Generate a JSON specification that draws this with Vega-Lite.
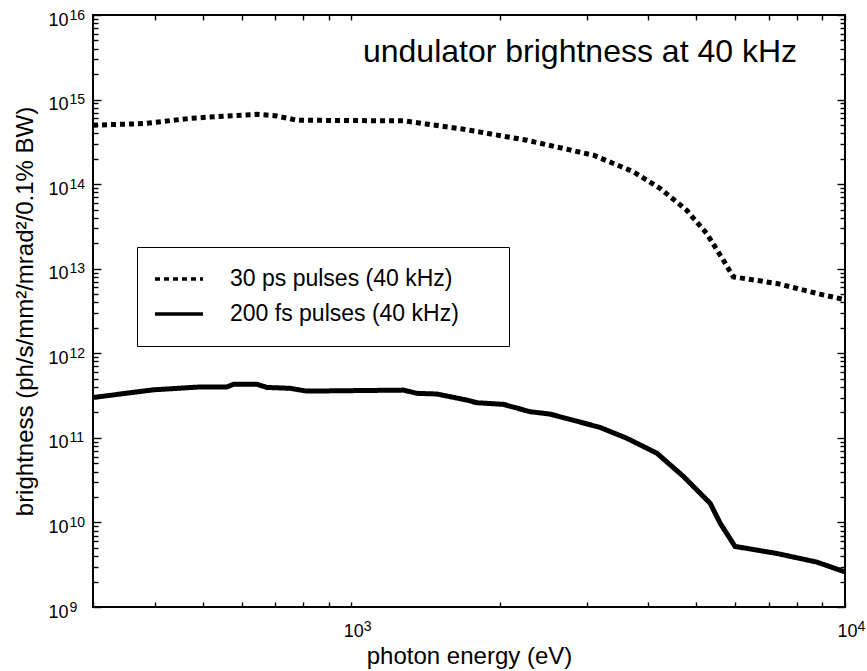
{
  "$schema": "https://vega.github.io/schema/vega-lite/v6.json",
  "autosize": {"type": "none"},
  "padding": {"left": 93, "top": 15, "right": 22, "bottom": 64},
  "width": 752,
  "height": 592,
  "background": "white",
  "config": {
    "font": "Liberation Sans",
    "view": {"stroke": "black", "strokeWidth": 2},
    "axis": {"grid": false, "domain": false, "domainColor": "black", "tickColor": "black", "labelColor": "black", "titleColor": "black", "labelFont": "Liberation Sans", "titleFont": "Liberation Sans", "titleFontWeight": "normal", "labelOverlap": false, "labelFlush": false, "tickWidth": 1.4}
  },
  "title": {
    "text": "undulator brightness at 40 kHz",
    "anchor": "end",
    "frame": "group",
    "orient": "bottom",
    "fontSize": 32,
    "fontWeight": "normal",
    "font": "Liberation Sans",
    "color": "black",
    "baseline": "alphabetic",
    "offset": 0,
    "dx": -48,
    "dy": -606
  },
  "data": {
    "values": [
      {"series": "30 ps pulses (40 kHz)", "E": 300, "B": 4.98e14},
      {"series": "30 ps pulses (40 kHz)", "E": 380, "B": 5.2e14},
      {"series": "30 ps pulses (40 kHz)", "E": 472, "B": 6.0e14},
      {"series": "30 ps pulses (40 kHz)", "E": 587, "B": 6.5e14},
      {"series": "30 ps pulses (40 kHz)", "E": 644, "B": 6.7e14},
      {"series": "30 ps pulses (40 kHz)", "E": 707, "B": 6.4e14},
      {"series": "30 ps pulses (40 kHz)", "E": 776, "B": 5.7e14},
      {"series": "30 ps pulses (40 kHz)", "E": 1276, "B": 5.6e14},
      {"series": "30 ps pulses (40 kHz)", "E": 1400, "B": 5.2e14},
      {"series": "30 ps pulses (40 kHz)", "E": 1714, "B": 4.4e14},
      {"series": "30 ps pulses (40 kHz)", "E": 2269, "B": 3.3e14},
      {"series": "30 ps pulses (40 kHz)", "E": 3094, "B": 2.2e14},
      {"series": "30 ps pulses (40 kHz)", "E": 3729, "B": 1.4e14},
      {"series": "30 ps pulses (40 kHz)", "E": 4223, "B": 8.9e13},
      {"series": "30 ps pulses (40 kHz)", "E": 4782, "B": 4.9e13},
      {"series": "30 ps pulses (40 kHz)", "E": 5248, "B": 2.6e13},
      {"series": "30 ps pulses (40 kHz)", "E": 5672, "B": 1.26e13},
      {"series": "30 ps pulses (40 kHz)", "E": 5943, "B": 8.0e12},
      {"series": "30 ps pulses (40 kHz)", "E": 7273, "B": 6.7e12},
      {"series": "30 ps pulses (40 kHz)", "E": 8896, "B": 5.0e12},
      {"series": "30 ps pulses (40 kHz)", "E": 10000, "B": 4.3e12},
      {"series": "200 fs pulses (40 kHz)", "E": 300, "B": 3.0e11},
      {"series": "200 fs pulses (40 kHz)", "E": 398, "B": 3.7e11},
      {"series": "200 fs pulses (40 kHz)", "E": 495, "B": 4.0e11},
      {"series": "200 fs pulses (40 kHz)", "E": 560, "B": 4.0e11},
      {"series": "200 fs pulses (40 kHz)", "E": 578, "B": 4.3e11},
      {"series": "200 fs pulses (40 kHz)", "E": 644, "B": 4.3e11},
      {"series": "200 fs pulses (40 kHz)", "E": 675, "B": 3.95e11},
      {"series": "200 fs pulses (40 kHz)", "E": 752, "B": 3.85e11},
      {"series": "200 fs pulses (40 kHz)", "E": 813, "B": 3.57e11},
      {"series": "200 fs pulses (40 kHz)", "E": 1276, "B": 3.67e11},
      {"series": "200 fs pulses (40 kHz)", "E": 1359, "B": 3.36e11},
      {"series": "200 fs pulses (40 kHz)", "E": 1491, "B": 3.3e11},
      {"series": "200 fs pulses (40 kHz)", "E": 1714, "B": 2.8e11},
      {"series": "200 fs pulses (40 kHz)", "E": 1797, "B": 2.6e11},
      {"series": "200 fs pulses (40 kHz)", "E": 2033, "B": 2.49e11},
      {"series": "200 fs pulses (40 kHz)", "E": 2301, "B": 2.04e11},
      {"series": "200 fs pulses (40 kHz)", "E": 2528, "B": 1.91e11},
      {"series": "200 fs pulses (40 kHz)", "E": 3191, "B": 1.33e11},
      {"series": "200 fs pulses (40 kHz)", "E": 3613, "B": 9.9e10},
      {"series": "200 fs pulses (40 kHz)", "E": 4157, "B": 6.6e10},
      {"series": "200 fs pulses (40 kHz)", "E": 4708, "B": 3.5e10},
      {"series": "200 fs pulses (40 kHz)", "E": 5334, "B": 1.68e10},
      {"series": "200 fs pulses (40 kHz)", "E": 5587, "B": 9.8e9},
      {"series": "200 fs pulses (40 kHz)", "E": 5988, "B": 5.2e9},
      {"series": "200 fs pulses (40 kHz)", "E": 7273, "B": 4.3e9},
      {"series": "200 fs pulses (40 kHz)", "E": 8764, "B": 3.4e9},
      {"series": "200 fs pulses (40 kHz)", "E": 10000, "B": 2.6e9}
    ]
  },
  "resolve": {"axis": {"x": "independent", "y": "independent"}},
  "layer": [
    {
      "mark": {"type": "line", "color": "black", "strokeCap": "butt", "strokeWidth": 5, "clip": true},
      "encoding": {
        "x": {
          "field": "E", "type": "quantitative",
          "scale": {"type": "log", "domain": [300, 10000], "nice": false},
          "axis": {
            "orient": "bottom",
            "title": "photon energy (eV)",
            "titleFontSize": 24,
            "titlePadding": 4,
            "values": [300, 400, 500, 600, 700, 800, 900, 1000, 2000, 3000, 4000, 5000, 6000, 7000, 8000, 9000, 10000],
            "labelExpr": "datum.value == 1000 || datum.value == 10000 ? '10' : ''",
            "labelFontSize": 18,
            "labelAlign": "left",
            "labelBaseline": "top",
            "labelOffset": -8,
            "labelPadding": 15,
            "offset": -5,
            "tickSize": 5
          }
        },
        "y": {
          "field": "B", "type": "quantitative",
          "scale": {"type": "log", "domain": [1e9, 1e16], "nice": false},
          "axis": {
            "orient": "left",
            "title": "brightness (ph/s/mm²/mrad²/0.1% BW)",
            "titleFontSize": 24,
            "titlePadding": 11,
            "values": [1e9, 1e10, 1e11, 1e12, 1e13, 1e14, 1e15, 1e16],
            "labelExpr": "'10'",
            "labelFontSize": 18,
            "labelAlign": "left",
            "labelBaseline": "middle",
            "labelOffset": 5,
            "labelPadding": 45,
            "offset": -8,
            "tickSize": 8
          }
        },
        "strokeDash": {
          "field": "series", "type": "nominal",
          "scale": {"domain": ["30 ps pulses (40 kHz)", "200 fs pulses (40 kHz)"], "range": [[5, 4], [1, 0]]},
          "legend": {
            "title": null,
            "orient": "none",
            "legendX": 44,
            "legendY": 232,
            "symbolType": "stroke",
            "symbolSize": 2304,
            "symbolStrokeColor": "black",
            "symbolStrokeWidth": 3.5,
            "clipHeight": 32,
            "rowPadding": 3,
            "padding": 16,
            "labelOffset": 25,
            "labelFontSize": 23,
            "labelFont": "Liberation Sans",
            "labelColor": "black",
            "labelExpr": "datum.label + '\u2800\u2800'",
            "labelLimit": 500,
            "strokeColor": "black",
            "fillColor": "white"
          }
        }
      }
    },
    {
      "mark": {"type": "line", "strokeOpacity": 0},
      "encoding": {
        "x": {
          "field": "E", "type": "quantitative",
          "scale": {"type": "log", "domain": [300, 10000], "nice": false},
          "axis": {
            "orient": "top", "title": null, "labels": false,
            "values": [300, 400, 500, 600, 700, 800, 900, 1000, 2000, 3000, 4000, 5000, 6000, 7000, 8000, 9000, 10000],
            "offset": -5, "tickSize": 5
          }
        },
        "y": {
          "field": "B", "type": "quantitative",
          "scale": {"type": "log", "domain": [1e9, 1e16], "nice": false},
          "axis": {
            "orient": "right", "title": null, "labels": false,
            "values": [1e9, 1e10, 1e11, 1e12, 1e13, 1e14, 1e15, 1e16],
            "offset": -8, "tickSize": 8
          }
        }
      }
    },
    {
      "mark": {"type": "line", "strokeOpacity": 0},
      "encoding": {
        "x": {
          "field": "E", "type": "quantitative",
          "scale": {"type": "log", "domain": [300, 10000], "nice": false},
          "axis": {
            "orient": "bottom", "title": null, "ticks": false,
            "values": [1000, 10000],
            "labelExpr": "datum.value == 1000 ? '3' : '4'",
            "labelFontSize": 14,
            "labelAlign": "left",
            "labelBaseline": "top",
            "labelOffset": 12,
            "labelPadding": 12
          }
        },
        "y": {
          "field": "B", "type": "quantitative",
          "scale": {"type": "log", "domain": [1e9, 1e16], "nice": false},
          "axis": {
            "orient": "left", "title": null, "labels": false,
            "values": [2e9, 3e9, 4e9, 5e9, 6e9, 7e9, 8e9, 9e9, 2e10, 3e10, 4e10, 5e10, 6e10, 7e10, 8e10, 9e10, 2e11, 3e11, 4e11, 5e11, 6e11, 7e11, 8e11, 9e11, 2e12, 3e12, 4e12, 5e12, 6e12, 7e12, 8e12, 9e12, 2e13, 3e13, 4e13, 5e13, 6e13, 7e13, 8e13, 9e13, 2e14, 3e14, 4e14, 5e14, 6e14, 7e14, 8e14, 9e14, 2e15, 3e15, 4e15, 5e15, 6e15, 7e15, 8e15, 9e15],
            "offset": -5, "tickSize": 5
          }
        }
      }
    },
    {
      "mark": {"type": "line", "strokeOpacity": 0},
      "encoding": {
        "x": {
          "field": "E", "type": "quantitative",
          "scale": {"type": "log", "domain": [300, 10000], "nice": false},
          "axis": null
        },
        "y": {
          "field": "B", "type": "quantitative",
          "scale": {"type": "log", "domain": [1e9, 1e16], "nice": false},
          "axis": {
            "orient": "right", "title": null, "labels": false,
            "values": [2e9, 3e9, 4e9, 5e9, 6e9, 7e9, 8e9, 9e9, 2e10, 3e10, 4e10, 5e10, 6e10, 7e10, 8e10, 9e10, 2e11, 3e11, 4e11, 5e11, 6e11, 7e11, 8e11, 9e11, 2e12, 3e12, 4e12, 5e12, 6e12, 7e12, 8e12, 9e12, 2e13, 3e13, 4e13, 5e13, 6e13, 7e13, 8e13, 9e13, 2e14, 3e14, 4e14, 5e14, 6e14, 7e14, 8e14, 9e14, 2e15, 3e15, 4e15, 5e15, 6e15, 7e15, 8e15, 9e15],
            "offset": -5, "tickSize": 5
          }
        }
      }
    },
    {
      "mark": {"type": "line", "strokeOpacity": 0},
      "encoding": {
        "x": {
          "field": "E", "type": "quantitative",
          "scale": {"type": "log", "domain": [300, 10000], "nice": false},
          "axis": null
        },
        "y": {
          "field": "B", "type": "quantitative",
          "scale": {"type": "log", "domain": [1e9, 1e16], "nice": false},
          "axis": {
            "orient": "left", "title": null, "ticks": false,
            "values": [1e9, 1e10, 1e11, 1e12, 1e13, 1e14, 1e15, 1e16],
            "labelExpr": "format(round(log(datum.value)/LN10), 'd')",
            "labelFontSize": 14,
            "labelAlign": "left",
            "labelBaseline": "middle",
            "labelOffset": 0,
            "labelPadding": 24
          }
        }
      }
    }
  ]
}
